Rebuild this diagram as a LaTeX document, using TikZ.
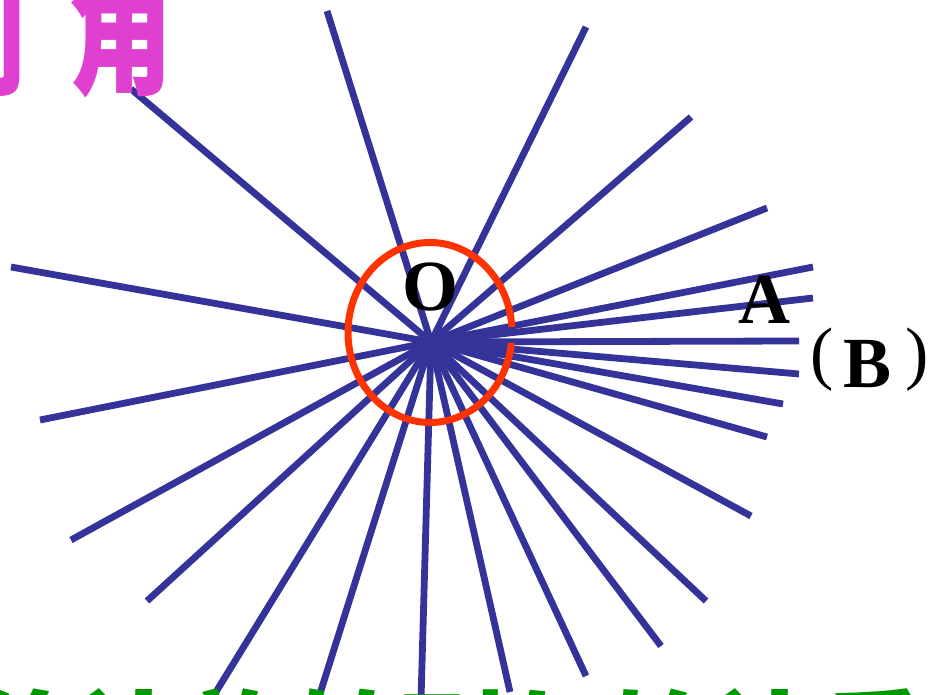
\documentclass[tikz,border=0pt]{standalone}
\usepackage{fontspec}
\setmainfont{Liberation Serif}
\newfontfamily\cjkfont{Noto Sans CJK SC}
\newfontfamily\cjkbold{Noto Sans CJK SC Black}
\definecolor{raycol}{RGB}{51,51,153}
\definecolor{ringcol}{RGB}{255,51,0}
\definecolor{pinkcol}{RGB}{224,64,208}
\definecolor{greencol}{RGB}{0,153,0}
\tikzset{
  ray/.style={draw=raycol, line width=6.8pt},
  ring/.style={draw=ringcol, line width=7pt},
  lbl/.style={inner sep=0pt, font=\fontsize{72}{72}\selectfont\bfseries},
  paren/.style={inner sep=0pt, font=\fontsize{70}{70}\selectfont},
  title/.style={inner sep=0pt, anchor=base west, text=pinkcol, font=\fontsize{140}{140}\selectfont\cjkbold},
  caption/.style={inner sep=0pt, anchor=base west, text=greencol, font=\fontsize{106}{106}\selectfont\cjkbold}
}
\begin{document}
\begin{tikzpicture}[x=1pt,y=-1pt]
\useasboundingbox (0,0) rectangle (930,695);
\fill[white] (0,0) rectangle (930,695);
\coordinate (c) at (431,342);
\foreach \px/\py [count=\i] in {131/89, 327/11, 586/27, 691/117, 767/208, 813/267, 813/298, 799/341, 799/374, 783/404, 767/437, 751/516, 706/601, 661/646, 586/676, 510/692, 421/700, 318/700, 211/700, 147/601, 71/540, 40/420, 11/267}
{
  \coordinate (r\i) at (\px,\py);
  \draw[ray] (c) -- (r\i);
}
\coordinate (oc) at (430,332.5);
\draw[ring] (oc) ++(6.7:82 and 90) arc[start angle=6.7, end angle=356.5, x radius=82, y radius=90];
\node[lbl] (O) at (430,287) {O};
\node[lbl] (A) at (764,300) {A};
\node[lbl] (B) at (868,364) {B};
\node[paren] (lp) at (822,360) {(};
\node[paren] (rp) at (917,360) {)};
\node[title] (t1) at (-78,84) {\scalebox{0.76}[1]{周}};
\node[title] (t2) at (67,84) {\scalebox{0.76}[1]{角}};
\node[caption] (cap) at (-26,779) {终边旋转到与始边重合};
\end{tikzpicture}
\end{document}
